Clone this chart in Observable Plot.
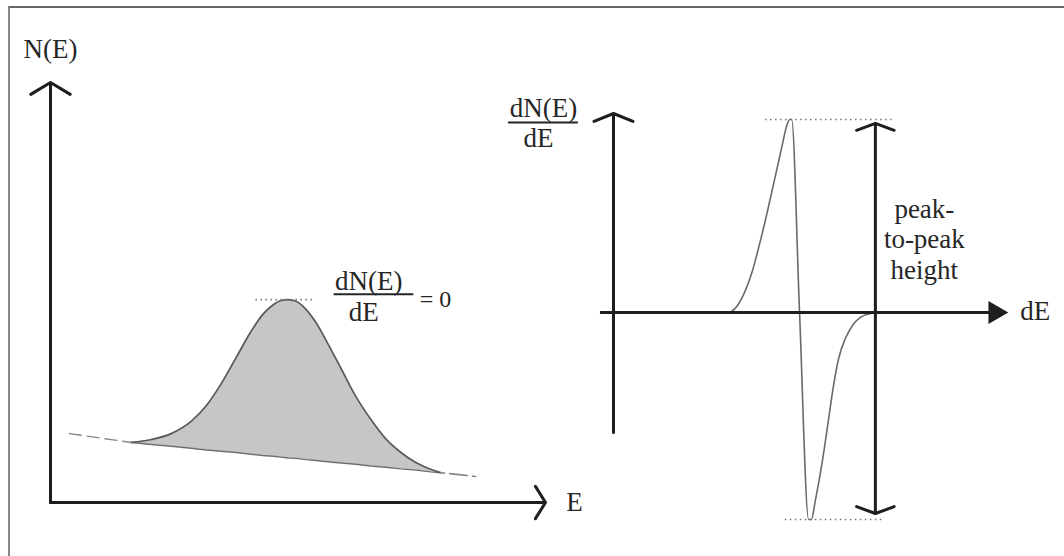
<!DOCTYPE html>
<html>
<head>
<meta charset="utf-8">
<script src="https://cdn.jsdelivr.net/npm/d3@7"></script>
<script src="https://cdn.jsdelivr.net/npm/@observablehq/plot@0.6"></script>
<style>
  html, body { margin: 0; padding: 0; background: #fff; }
  #stage { position: relative; width: 1064px; height: 556px; overflow: hidden; background: #fff; }
  #frame { position: absolute; left: 8px; top: 6px; right: -20px; bottom: -20px;
           border-top: 2px solid #666; border-left: 2px solid #888; }
  #stage svg { position: absolute; top: 0; }
</style>
</head>
<body>
<div id="stage"><div id="frame"></div></div>
<script>
// ---- N(E) spectrum: energy (arbitrary units), counts, and the sloping background under the peak
const energy     = [16.3, 20.4, 24.4, 28.4, 31.5, 34.5, 37.5, 40.5, 42.9, 45.0, 46.6, 48.0,
                    49.6, 51.6, 53.6, 56.0, 58.7, 61.7, 64.7, 67.7, 70.8, 73.8, 76.8, 78.8];
const counts     = [14.3, 15.0, 16.4, 19.3, 23.1, 28.3, 34.5, 40.7, 44.8, 47.1, 48.1, 48.3,
                    47.9, 46.0, 42.9, 37.9, 31.9, 25.2, 19.8, 15.2, 11.9, 9.5, 7.9, 7.1];
const background = [14.3, 13.8, 13.4, 12.9, 12.5, 12.2, 11.9, 11.5, 11.2, 11.0, 10.8, 10.6,
                    10.5, 10.2, 10.0, 9.7, 9.4, 9.1, 8.7, 8.4, 8.0, 7.7, 7.3, 7.1];
// background continuing outside the peak (drawn dashed)
const leadInE  = [3.8, 16.3];
const leadInN  = [16.4, 14.3];
const leadOutE = [78.8, 85.9];
const leadOutN = [7.1, 6.2];

// ---- dN(E)/dE: derivative of the peak, plotted against energy offset
const derivE     = [29.6, 31.4, 33.4, 35.2, 36.7, 38.2, 39.7, 41.3, 42.8, 43.8, 44.6, 45.1, 47.1,
                    49.4, 50.1, 51.1, 52.9, 54.4, 55.7, 57.0, 58.7, 60.5, 62.5, 65.1, 67.1];
const derivValue = [0, 3.5, 11.1, 21.1, 32.2, 44.2, 57.3, 71.4, 84.9, 93.5, 97.0, 97.0, 0,
                    -104, -104, -94.5, -74.4, -54.3, -36.7, -23.1, -13.1, -6.5, -2.5, -0.5, 0];

const spectrum = energy.map((e, i) => ({e, n: counts[i], bg: background[i]}));
const leadIn   = leadInE.map((e, i) => ({e, n: leadInN[i]}));
const leadOut  = leadOutE.map((e, i) => ({e, n: leadOutN[i]}));
const deriv    = derivE.map((e, i) => ({e, v: derivValue[i]}));

const serif = "'Liberation Serif', 'Times New Roman', serif";
const ink = "#262626";
const axisInk = "#1e1e1e";
const fontSize = 27;
const textOpts = {fontFamily: serif, fontSize, fill: ink};

const peakN = d3.max(counts);
const maxV = d3.max(derivValue);
const minV = d3.min(derivValue);

// ---- left panel: N(E) against E
const left = Plot.plot({
  width: 600, height: 556,
  marginLeft: 50, marginRight: 55, marginTop: 82, marginBottom: 54,
  x: {domain: [0, 100], axis: null},
  y: {domain: [0, 100], axis: null},
  style: {background: "transparent", overflow: "visible"},
  marks: [
    Plot.areaY(spectrum, {x: "e", y1: "bg", y2: "n", fill: "#c6c6c6", curve: "monotone-x"}),
    Plot.line(spectrum, {x: "e", y: "bg", stroke: "#6e6e6e", strokeWidth: 1.4}),
    Plot.line(spectrum, {x: "e", y: "n", stroke: "#5a5a5a", strokeWidth: 1.7, curve: "monotone-x"}),
    Plot.line(leadIn, {x: "e", y: "n", stroke: "#888", strokeWidth: 1.4, strokeDasharray: "12,6"}),
    Plot.line(leadOut, {x: "e", y: "n", stroke: "#888", strokeWidth: 1.6, strokeDasharray: "4,5,14,0"}),
    // dotted tangent at the maximum
    Plot.ruleY([peakN], {x1: 41.5, x2: 53.6, stroke: "#777", strokeWidth: 1.6, strokeDasharray: "1.5,3.5"}),
    // axes
    Plot.arrow([0], {x1: 0, y1: 0, x2: 0, y2: 100, stroke: axisInk, strokeWidth: 3,
                     headAngle: 118, headLength: 11.5}),
    Plot.arrow([0], {x1: 0, y1: 0, x2: 100, y2: 0, stroke: axisInk, strokeWidth: 3,
                     headAngle: 116, headLength: 9.5}),
    Plot.text(["N(E)"], {x: 0, y: 108, text: d => d, ...textOpts}),
    Plot.text(["E"], {x: 104.2, y: 0, text: d => d, textAnchor: "start", ...textOpts}),
    // dN(E)/dE = 0 at the peak
    Plot.text(["dN(E)"], {x: 64.3, y: 52.6, text: d => d, ...textOpts}),
    Plot.ruleY([49.6], {x1: 57.3, x2: 73.4, stroke: ink, strokeWidth: 2}),
    Plot.text(["dE"], {x: 63.3, y: 45.2, text: d => d, ...textOpts}),
    Plot.text(["= 0"], {x: 74.6, y: 48.3, text: d => d, textAnchor: "start", ...textOpts, fontSize: 24})
  ]
});
left.style.left = "0px";

// ---- right panel: dN(E)/dE against dE
const right = Plot.plot({
  width: 604, height: 556,
  marginLeft: 153, marginRight: 56, marginTop: 113, marginBottom: 45,
  x: {domain: [0, 100], axis: null},
  y: {domain: [-100, 100], axis: null},
  style: {background: "transparent", overflow: "visible"},
  marks: [
    Plot.line(deriv, {x: "e", y: "v", stroke: "#6a6a6a", strokeWidth: 1.6, curve: "monotone-x"}),
    Plot.ruleY([maxV], {x1: 38.5, x2: 70.9, stroke: "#777", strokeWidth: 1.6, strokeDasharray: "1.5,3.5"}),
    Plot.ruleY([minV], {x1: 43.5, x2: 68.1, stroke: "#777", strokeWidth: 1.6, strokeDasharray: "1.5,3.5"}),
    // axes
    Plot.arrow([0], {x1: 0, y1: -60.3, x2: 0, y2: 100, stroke: axisInk, strokeWidth: 3,
                     headAngle: 136, headLength: 10.5}),
    Plot.ruleY([0], {x1: -3.3, x2: 97, stroke: axisInk, strokeWidth: 3}),
    Plot.dot([0], {x: 96.6, y: 0, symbol: "triangle", r: 8.5, rotate: 90, fill: axisInk, stroke: null}),
    // peak-to-peak double arrow
    Plot.arrow([0], {x1: 66.3, y1: 0, x2: 66.3, y2: maxV - 2, stroke: axisInk, strokeWidth: 3,
                     headAngle: 140, headLength: 10}),
    Plot.arrow([0], {x1: 66.3, y1: 0, x2: 66.3, y2: minV + 3, stroke: axisInk, strokeWidth: 3,
                     headAngle: 140, headLength: 10}),
    Plot.text(["peak-\nto-peak\nheight"], {x: 78.7, y: 37.2, text: d => d, lineHeight: 1.13, ...textOpts}),
    Plot.text(["dE"], {x: 103, y: 0.5, text: d => d, textAnchor: "start", ...textOpts}),
    Plot.text(["dN(E)"], {x: -17.7, y: 102.5, text: d => d, ...textOpts}),
    Plot.ruleY([95.5], {x1: -26.6, x2: -8.9, stroke: ink, strokeWidth: 2}),
    Plot.text(["dE"], {x: -19, y: 87.5, text: d => d, ...textOpts})
  ]
});
right.style.left = "460px";

const stage = document.getElementById("stage");
stage.appendChild(left);
stage.appendChild(right);
</script>
</body>
</html>
